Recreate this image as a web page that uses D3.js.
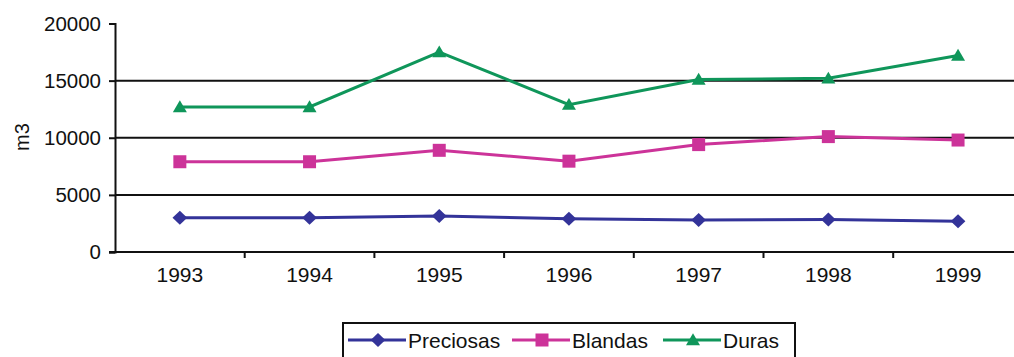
<!DOCTYPE html>
<html><head><meta charset="utf-8">
<script src="https://cdn.jsdelivr.net/npm/d3@7"></script>
<style>body{margin:0;background:#fff;}svg{display:block;}text{font-family:"Liberation Sans",Arial,sans-serif;fill:#111;}</style>
</head><body>
<svg id="c" width="1014" height="357"></svg>
<script>
const years = ["1993","1994","1995","1996","1997","1998","1999"];
const preciosas = [3000,3000,3150,2900,2800,2850,2700];
const blandas = [7900,7900,8900,7950,9400,10100,9800];
const duras = [12700,12700,17500,12900,15100,15200,17200];
const yTicks = [0,5000,10000,15000,20000];
const gridVals = [5000,10000,15000];
const seriesNames = ["Preciosas","Blandas","Duras"];
const seriesColors = ["#333399","#cc3399","#0f965a"];
const seriesData = [preciosas, blandas, duras];

// marker shapes
const wideDiamond = {draw(ctx, size){ const r = Math.sqrt(size)/2; ctx.moveTo(0,-r); ctx.lineTo(r*1.05,0); ctx.lineTo(0,r); ctx.lineTo(-r*1.05,0); ctx.closePath(); }};
const tri = {draw(ctx, size){ const r = Math.sqrt(size)/2; ctx.moveTo(0,-r*0.95); ctx.lineTo(r,r*0.75); ctx.lineTo(-r,r*0.75); ctx.closePath(); }};
const sq = {draw(ctx, size){ const r = Math.sqrt(size)/2; ctx.rect(-r,-r,2*r,2*r); }};
const seriesSymbols = [wideDiamond, sq, tri];
const seriesSizes = [196, 169, 196];

const svg = d3.select("#c");
const x0 = 115, bw = 129.7;
const x = d3.scaleBand().domain(years).range([x0, x0 + bw*years.length]);
const y = d3.scaleLinear().domain([0,20000]).range([252, 23.5]);
const FONT = "'Liberation Sans',Arial,sans-serif";

// gridlines
svg.append("g").selectAll("line").data(gridVals).join("line")
  .attr("x1", x0).attr("x2", 1014)
  .attr("y1", d=>y(d)).attr("y2", d=>y(d))
  .attr("stroke","#111").attr("stroke-width",2);

// y axis
const ya = svg.append("g").attr("transform",`translate(${x0},0)`)
  .call(d3.axisLeft(y).tickValues(yTicks).tickSize(6).tickPadding(8).tickFormat(d3.format("d")));
ya.select(".domain").attr("stroke","#111").attr("stroke-width",2);
ya.selectAll(".tick line").attr("stroke","#111").attr("stroke-width",2);
ya.selectAll("text").style("font-size","20.5px").style("font-family",FONT).attr("fill","#111");

// x axis
const xa = svg.append("g").attr("transform",`translate(0,${y(0)})`)
  .call(d3.axisBottom(x).tickSize(0).tickPadding(15));
xa.select(".domain").remove();
svg.append("line").attr("x1",x0-6).attr("x2",1014).attr("y1",y(0)).attr("y2",y(0))
  .attr("stroke","#111").attr("stroke-width",2);
svg.append("g").selectAll("line").data(years.slice(1)).join("line")
  .attr("x1",d=>x(d)).attr("x2",d=>x(d)).attr("y1",y(0)).attr("y2",y(0)+6)
  .attr("stroke","#111").attr("stroke-width",2);
xa.selectAll("text").style("font-size","21px").style("font-family",FONT).attr("fill","#111");

// y label
svg.append("text").attr("transform","translate(29,137) rotate(-90)")
  .attr("text-anchor","middle").style("font-size","20px").text("m3");

// series
const line = d3.line().x((d,i)=>x(years[i])+x.bandwidth()/2).y(d=>y(d));
seriesData.forEach((s,k)=>{
  svg.append("path").datum(s).attr("d",line).attr("fill","none")
    .attr("stroke",seriesColors[k]).attr("stroke-width",3);
  svg.append("g").selectAll("path").data(s).join("path")
    .attr("transform",(d,i)=>`translate(${x(years[i])+x.bandwidth()/2},${y(d)})`)
    .attr("d", d3.symbol().type(seriesSymbols[k]).size(seriesSizes[k]))
    .attr("fill",seriesColors[k]);
});

// legend
const lg = svg.append("g");
lg.append("rect").attr("x",343).attr("y",323).attr("width",452).attr("height",45)
  .attr("fill","#fff").attr("stroke","#111").attr("stroke-width",2);
const legX = [348, 512, 663];
seriesNames.forEach((n,k)=>{
  const g = lg.append("g").attr("transform",`translate(${legX[k]},340)`);
  g.append("line").attr("x1",0).attr("x2",58).attr("stroke",seriesColors[k]).attr("stroke-width",3);
  g.append("path").attr("transform","translate(30,0)")
    .attr("d", d3.symbol().type(seriesSymbols[k]).size(seriesSizes[k])).attr("fill",seriesColors[k]);
  g.append("text").attr("x",60).attr("y",8).style("font-size","21px").text(n);
});
</script>
</body></html>
